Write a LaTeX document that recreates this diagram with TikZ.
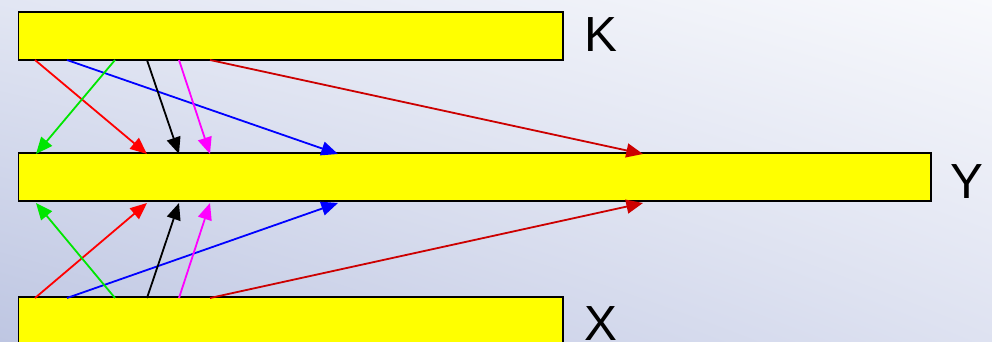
\documentclass[tikz,border=0pt]{standalone}
\usepackage{fontspec}
\setmainfont{Liberation Sans}
\usetikzlibrary{arrows.meta,calc,shadings}
\definecolor{barfill}{RGB}{255,255,0}
\definecolor{lnred}{RGB}{255,0,0}
\definecolor{lnblue}{RGB}{0,0,255}
\definecolor{lngreen}{RGB}{0,230,0}
\definecolor{lnmag}{RGB}{255,0,255}
\definecolor{lndark}{RGB}{204,0,0}
\definecolor{bgTL}{RGB}{226,230,243}
\definecolor{bgTR}{RGB}{248,249,252}
\definecolor{bgBL}{RGB}{190,198,226}
\definecolor{bgBR}{RGB}{222,226,241}
\begin{document}
\begin{tikzpicture}[x=0.75pt,y=-0.75pt,
  bar/.style={draw=black, line width=1.3pt, fill=barfill, inner sep=0pt,
              outer sep=0pt, anchor=north west, minimum height=36pt},
  lab/.style={font=\fontsize{37}{37}\selectfont, anchor=base west, inner sep=0pt},
  link/.style={line width=1.35pt, -{Triangle[length=12.5pt,width=10.5pt]}}]
\useasboundingbox (0,0) rectangle (992,342);
% background gradient
\shade[upper left=bgTL, upper right=bgTR, lower left=bgBL, lower right=bgBR]
  (0,0) rectangle (992,342);

% the three bars
\node[bar, minimum width=408.4pt] (K) at (18.5,12) {};
\node[bar, minimum width=684.4pt] (Y) at (18.5,153) {};
\node[bar, minimum width=408.4pt] (X) at (18.5,297) {};

% labels
\node[lab] (lK) at (584,52) {K};
\node[lab] (lY) at (950,199) {Y};
\node[lab] (lX) at (584,340) {X};

% links from K down to Y, and from X up to Y
\foreach \col/\a/\b in {lnred/16.5/128.5, lnblue/48.5/319.5, lngreen/96.5/17.5,
                        black/128.5/160.5, lnmag/160.5/191.5, lndark/191.5/624.5}{
  \draw[link, \col] ($(K.south west)+(\a,0)$) -- ($(Y.north west)+(\b,1)$);
  \draw[link, \col] ($(X.north west)+(\a,1)$) -- ($(Y.south west)+(\b,2)$);
}
\end{tikzpicture}
\end{document}
